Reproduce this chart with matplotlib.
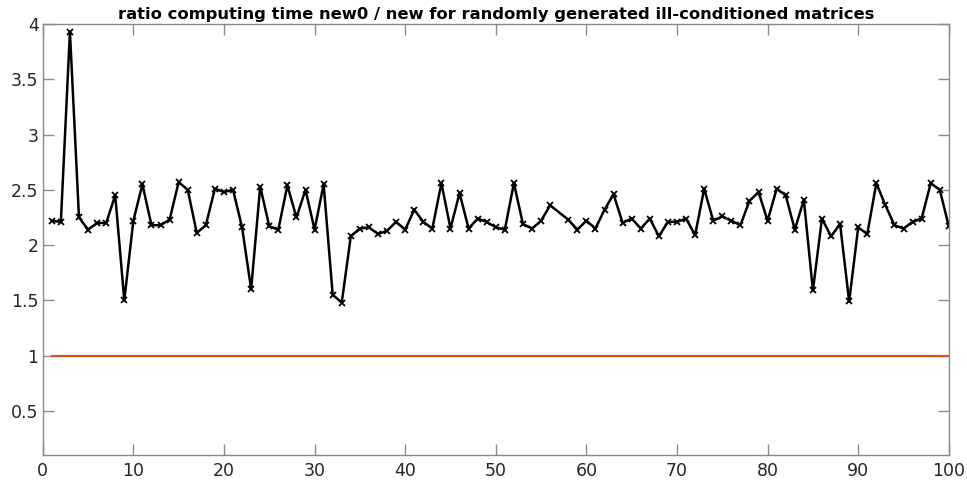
import matplotlib
matplotlib.use("Agg")
import matplotlib.pyplot as plt

# run index (point 57 has no visible marker in the original, line goes straight 56->58)
runs = [i for i in range(1, 101) if i != 57]

# ratio new0/new
ratio = [2.22, 2.21, 3.93, 2.25, 2.14, 2.20, 2.20, 2.45, 1.50, 2.22,
         2.55, 2.18, 2.18, 2.23, 2.57, 2.50, 2.11, 2.18, 2.51, 2.48,
         2.50, 2.16, 1.60, 2.53, 2.17, 2.14, 2.54, 2.25, 2.50, 2.14,
         2.55, 1.55, 1.48, 2.08, 2.15, 2.16, 2.10, 2.13, 2.21, 2.14,
         2.32, 2.21, 2.15, 2.56, 2.15, 2.47, 2.15, 2.24, 2.21, 2.16,
         2.14, 2.56, 2.19, 2.15, 2.22, 2.36,
         2.23, 2.14, 2.22, 2.15, 2.32, 2.46, 2.20, 2.24, 2.15,
         2.24, 2.08, 2.21, 2.21, 2.24, 2.09, 2.51, 2.22, 2.26, 2.22,
         2.18, 2.40, 2.48, 2.22, 2.51, 2.45, 2.14, 2.41, 1.59, 2.24,
         2.08, 2.19, 1.49, 2.16, 2.10, 2.56, 2.36, 2.18, 2.15, 2.21,
         2.24, 2.56, 2.50, 2.17]

ref_x = [1, 100]
ref_y = [1, 1]

# the reference text is wide, DejaVu comes closer than a Helvetica clone
plt.rcParams['font.family'] = ['DejaVu Sans']

fig = plt.figure(figsize=(9.67, 4.82), dpi=100)
ax = fig.add_axes([0.0442, 0.056, 0.937, 0.894])

ax.plot(runs, ratio, color='black', linewidth=1.8, marker='x',
        markersize=4.5, markeredgewidth=1.3)
ax.plot(ref_x, ref_y, color='#D95319', linewidth=1.6)

ax.set_xlim(0, 100)
ax.set_ylim(0.1, 4)
ax.set_xticks(range(0, 101, 10))
ax.set_yticks([0.5, 1, 1.5, 2, 2.5, 3, 3.5, 4])
ax.set_yticklabels(['0.5', '1', '1.5', '2', '2.5', '3', '3.5', '4'])

for s in ax.spines.values():
    s.set_color('#8a8a8a')
    s.set_linewidth(1.0)
ax.tick_params(direction='in', length=8, width=1, colors='#8a8a8a',
               labelcolor='#262626', labelsize=12.5, top=True, right=True)
ax.tick_params(axis='x', pad=5)
ax.tick_params(axis='y', pad=3)

ax.set_title('ratio computing time new0 / new for randomly generated ill-conditioned matrices',
             fontsize=11.8, fontweight='bold', pad=4)

fig.savefig('out.png', dpi=100)
